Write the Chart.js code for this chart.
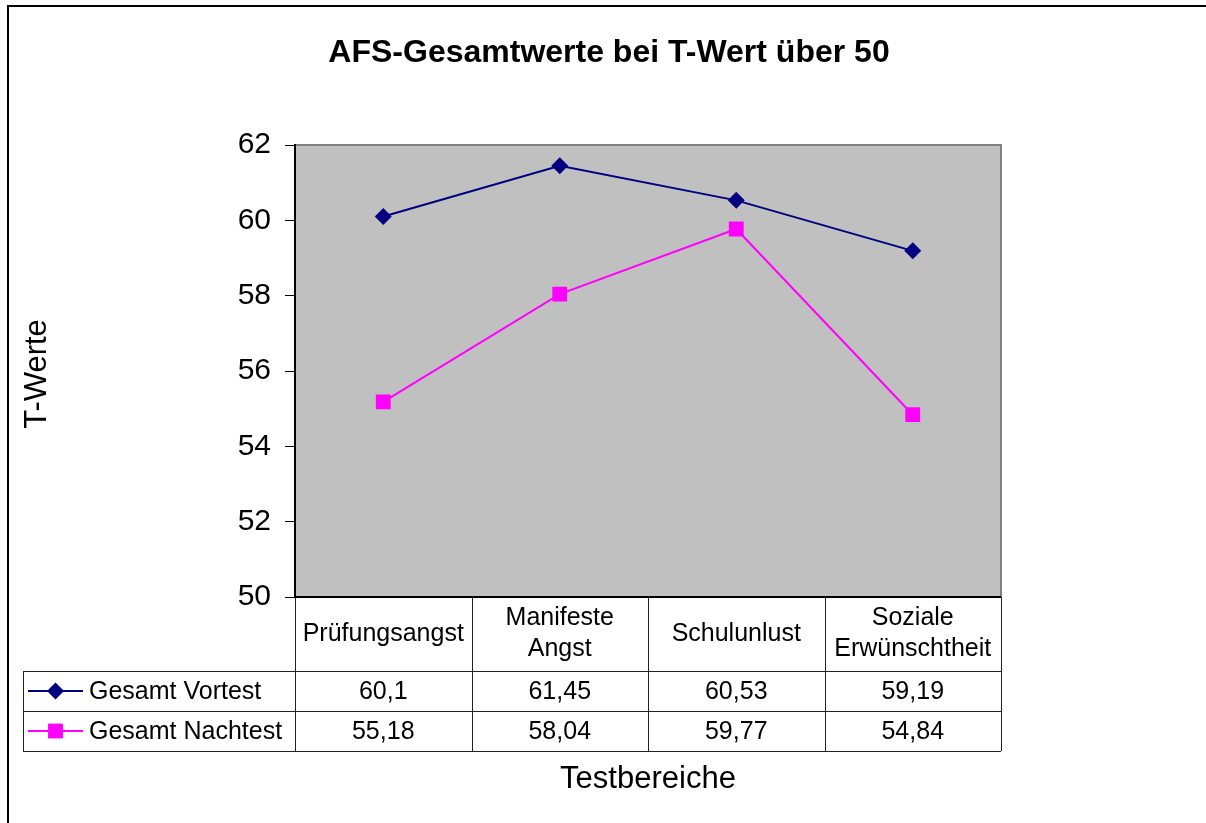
<!DOCTYPE html>
<html lang="de">
<head>
<meta charset="utf-8">
<title>AFS-Gesamtwerte bei T-Wert über 50</title>
<script src="https://cdn.jsdelivr.net/npm/chart.js@4.4.1/dist/chart.umd.min.js"></script>
<style>
  html, body { margin: 0; padding: 0; background: #fff; }
  #wrap { width: 1206px; height: 823px; position: relative; }
</style>
</head>
<body>
<div id="wrap"><canvas id="grafico"></canvas></div>
<script>
/* =========================
   AFS-Gesamtwerte (Liniendiagramm mit Datentabelle)
========================= */

const TITEL = 'AFS-Gesamtwerte bei T-Wert über 50';
const ACHSE_X = 'Testbereiche';
const ACHSE_Y = 'T-Werte';

// Kategorien (mehrzeilig wie in der Tabelle)
const KATEGORIEN = [
  ['Prüfungsangst'],
  ['Manifeste', 'Angst'],
  ['Schulunlust'],
  ['Soziale', 'Erwünschtheit']
];

const SERIEN_NAMEN = ['Gesamt Vortest', 'Gesamt Nachtest'];
const VORTEST = [60.1, 61.45, 60.53, 59.19];
const NACHTEST = [55.18, 58.04, 59.77, 54.84];

// Y-Achse
const Y_MIN = 50;
const Y_MAX = 62;
const Y_SCHRITT = 2;

const SCHRIFT = "'Liberation Sans', Arial, sans-serif";
const FARBE_VOR = '#000080';
const FARBE_NACH = '#FF00FF';

const zahl = v => String(v).replace('.', ',');

// Marker für die Legende in der Tabelle
function zeichneMarker(ctx, stil, x, y, r, farbe) {
  ctx.fillStyle = farbe;
  ctx.beginPath();
  if (stil === 'rectRot') {
    ctx.moveTo(x, y - r);
    ctx.lineTo(x + r, y);
    ctx.lineTo(x, y + r);
    ctx.lineTo(x - r, y);
    ctx.closePath();
  } else {
    const h = r * Math.SQRT1_2;
    ctx.rect(x - h, y - h, 2 * h, 2 * h);
  }
  ctx.fill();
}

const tabellePlugin = {
  id: 'datenTabelle',
  beforeDraw(chart) {
    const { ctx, chartArea: a } = chart;
    ctx.save();
    ctx.fillStyle = '#fff';
    ctx.fillRect(0, 0, chart.width, chart.height);
    // Zeichnungsfläche grau
    ctx.fillStyle = '#C0C0C0';
    ctx.fillRect(a.left, a.top, a.right - a.left, a.bottom - a.top);
    ctx.strokeStyle = '#808080';
    ctx.lineWidth = 2;
    ctx.beginPath();
    ctx.moveTo(a.left, a.top);
    ctx.lineTo(a.right, a.top);
    ctx.lineTo(a.right, a.bottom);
    ctx.stroke();
    ctx.restore();
  },
  afterDraw(chart) {
    const { ctx, chartArea: a } = chart;
    const xs = chart.scales.x;
    const schritt = xs.getPixelForValue(1) - xs.getPixelForValue(0);
    const kopfOben = a.bottom;
    const kopfH = 74;
    const zeileH = 40;
    const legLinks = 23;
    const unten = kopfOben + kopfH + 2 * zeileH;

    ctx.save();

    // Tabellenlinien
    ctx.strokeStyle = '#222';
    ctx.lineWidth = 1;
    ctx.beginPath();
    for (let i = 0; i <= KATEGORIEN.length; i++) {
      const x = Math.round(xs.getPixelForValue(0) - schritt / 2 + i * schritt) + 0.5;
      ctx.moveTo(x, kopfOben);
      ctx.lineTo(x, unten);
    }
    for (let r = 0; r <= 2; r++) {
      const y = kopfOben + kopfH + r * zeileH + 0.5;
      ctx.moveTo(legLinks, y);
      ctx.lineTo(a.right, y);
    }
    ctx.moveTo(legLinks + 0.5, kopfOben + kopfH);
    ctx.lineTo(legLinks + 0.5, unten);
    ctx.stroke();

    // X-Achsenlinie
    ctx.strokeStyle = '#000';
    ctx.lineWidth = 2;
    ctx.beginPath();
    ctx.moveTo(a.left, a.bottom);
    ctx.lineTo(a.right, a.bottom);
    ctx.stroke();

    // Kopfzeile: Kategorien
    ctx.fillStyle = '#000';
    ctx.font = `25px ${SCHRIFT}`;
    ctx.textAlign = 'center';
    ctx.textBaseline = 'middle';
    KATEGORIEN.forEach((zeilen, i) => {
      const x = xs.getPixelForValue(i);
      const mitte = kopfOben + kopfH / 2;
      const lh = 31;
      zeilen.forEach((t, j) => {
        ctx.fillText(t, x, mitte + (j - (zeilen.length - 1) / 2) * lh);
      });
    });

    // Datenzeilen
    chart.data.datasets.forEach((ds, r) => {
      const y = kopfOben + kopfH + r * zeileH + zeileH / 2;
      ctx.textAlign = 'center';
      ctx.fillStyle = '#000';
      ds.data.forEach((v, i) => {
        ctx.fillText(zahl(v), xs.getPixelForValue(i), y + 1);
      });
      // Legendenschlüssel
      ctx.strokeStyle = ds.borderColor;
      ctx.lineWidth = 2;
      ctx.beginPath();
      ctx.moveTo(28, y);
      ctx.lineTo(83, y);
      ctx.stroke();
      zeichneMarker(ctx, ds.pointStyle, 55.5, y, ds.pointRadius, ds.pointBackgroundColor);
      ctx.fillStyle = '#000';
      ctx.textAlign = 'left';
      ctx.fillText(ds.label, 89, y + 1);
    });

    // Titel
    ctx.font = `bold 32px ${SCHRIFT}`;
    ctx.textAlign = 'center';
    ctx.fillText(TITEL, 609, 53);

    // Achsentitel
    ctx.font = `31px ${SCHRIFT}`;
    ctx.fillText(ACHSE_X, (a.left + a.right) / 2, 779);
    ctx.save();
    ctx.translate(37, 374);
    ctx.rotate(-Math.PI / 2);
    ctx.fillText(ACHSE_Y, 0, 0);
    ctx.restore();

    // Diagrammrahmen
    ctx.strokeStyle = '#000';
    ctx.lineWidth = 2;
    ctx.beginPath();
    ctx.moveTo(8, chart.height);
    ctx.lineTo(8, 6);
    ctx.lineTo(chart.width, 6);
    ctx.stroke();

    ctx.restore();
  }
};

const ctx = document.getElementById('grafico').getContext('2d');

new Chart(ctx, {
  type: 'line',
  data: {
    labels: KATEGORIEN.map(k => k.join(' ')),
    datasets: [
      {
        label: SERIEN_NAMEN[0],
        data: VORTEST,
        borderColor: FARBE_VOR,
        backgroundColor: FARBE_VOR,
        pointBackgroundColor: FARBE_VOR,
        pointBorderWidth: 0,
        pointStyle: 'rectRot',
        pointRadius: 8.5,
        borderWidth: 2,
        tension: 0
      },
      {
        label: SERIEN_NAMEN[1],
        data: NACHTEST,
        borderColor: FARBE_NACH,
        backgroundColor: FARBE_NACH,
        pointBackgroundColor: FARBE_NACH,
        pointBorderWidth: 0,
        pointStyle: 'rect',
        pointRadius: 10.5,
        borderWidth: 2,
        tension: 0
      }
    ]
  },
  options: {
    responsive: true,
    maintainAspectRatio: false,
    animation: false,
    layout: { padding: { top: 145, bottom: 226, right: 205, left: 0 } },
    plugins: {
      legend: { display: false },
      title: { display: false },
      tooltip: { enabled: false }
    },
    scales: {
      x: {
        type: 'category',
        offset: true,
        display: false
      },
      y: {
        min: Y_MIN,
        max: Y_MAX,
        ticks: {
          stepSize: Y_SCHRITT,
          color: '#000',
          padding: 14,
          font: { family: SCHRIFT, size: 30 }
        },
        grid: {
          drawOnChartArea: false,
          tickLength: 10,
          tickColor: '#000',
          tickWidth: 1
        },
        border: { color: '#000', width: 2 },
        afterFit(scale) { scale.width = 295; }
      }
    }
  },
  plugins: [tabellePlugin]
});
</script>
</body>
</html>
